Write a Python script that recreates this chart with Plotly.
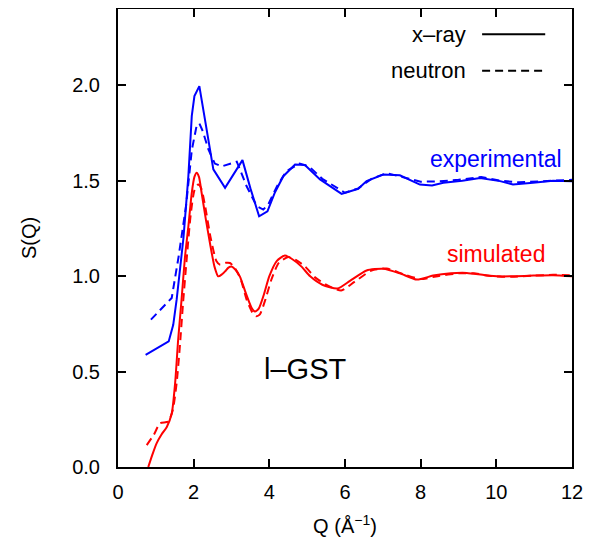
import plotly.graph_objects as go

# Experimental x-ray (blue solid)
q_exp_x = [0.73, 1.0, 1.34, 1.46, 1.55, 1.73, 1.86, 1.95, 2.02, 2.15, 2.24, 2.38, 2.52, 2.83, 3.29, 3.5, 3.73,
           3.95, 4.15, 4.37, 4.68, 4.94, 5.34, 5.91, 6.35, 6.57, 7.01, 7.45, 7.98, 8.3, 8.6, 9.1, 9.57,
           10.1, 10.44, 10.97, 11.5, 12.0]
s_exp_x = [0.588, 0.62, 0.658, 0.745, 0.877, 1.2, 1.524, 1.84, 1.944, 1.996, 1.89, 1.72, 1.56, 1.463, 1.608, 1.46, 1.314,
           1.34, 1.44, 1.524, 1.585, 1.582, 1.507, 1.431, 1.458, 1.498, 1.533, 1.529, 1.48, 1.475, 1.489, 1.50, 1.515,
           1.498, 1.48, 1.489, 1.50, 1.498]

# Experimental neutron (blue dashed)
q_exp_n = [0.87, 1.2, 1.42, 1.6, 1.8, 1.95, 2.08, 2.15, 2.24, 2.39, 2.56, 2.74, 3.14, 3.40, 3.67, 3.84, 3.97,
           4.2, 4.45, 4.8, 5.05, 5.4, 6.0, 6.35, 6.7, 7.1, 7.5, 8.0, 8.5, 9.0, 9.6, 10.1, 10.6, 11.0, 11.5, 12.0]
s_exp_n = [0.772, 0.84, 0.886, 1.1, 1.37, 1.66, 1.79, 1.80, 1.76, 1.664, 1.59, 1.575, 1.60, 1.471, 1.366, 1.349, 1.375,
           1.47, 1.55, 1.59, 1.575, 1.51, 1.437, 1.46, 1.51, 1.54, 1.52, 1.495, 1.497, 1.505, 1.52, 1.50, 1.492, 1.495, 1.50, 1.505]

# Simulated x-ray (red solid)
q_sim_x = [0.8, 0.9, 1.02, 1.15, 1.29, 1.42, 1.51, 1.59, 1.68, 1.77, 1.86, 1.95, 2.02, 2.08, 2.14, 2.21, 2.32, 2.43,
           2.55, 2.65, 2.75, 2.83, 2.92, 3.0, 3.1, 3.22, 3.38, 3.53, 3.62, 3.72, 3.85, 4.0, 4.2, 4.41, 4.6, 4.85,
           5.08, 5.4, 5.8, 6.13, 6.57, 7.01, 7.45, 7.9, 8.33, 8.8, 9.22, 9.7, 10.1, 10.5, 10.98, 11.5, 12.0]
s_sim_x = [0.0, 0.06, 0.124, 0.17, 0.21, 0.28, 0.44, 0.667, 0.877, 1.1, 1.261, 1.437, 1.52, 1.542, 1.52, 1.437, 1.30, 1.174,
           1.05, 0.999, 1.01, 1.025, 1.045, 1.051, 1.035, 0.999, 0.91, 0.835, 0.815, 0.83, 0.90, 1.0, 1.08, 1.108, 1.09, 1.05,
           0.999, 0.955, 0.935, 0.975, 1.03, 1.039, 1.015, 0.982, 1.003, 1.015, 1.017, 1.005, 0.999, 1.0, 1.003, 1.005, 0.999]

# Simulated neutron (red dashed)
q_sim_n = [0.76, 0.95, 1.11, 1.33, 1.45, 1.55, 1.63, 1.72, 1.82, 1.92, 2.02, 2.12, 2.2, 2.3, 2.45, 2.6, 2.7, 2.85,
           2.96, 3.1, 3.25, 3.4, 3.55, 3.65, 3.75, 3.9, 4.05, 4.25, 4.5, 4.7, 4.95, 5.2, 5.5, 5.9, 6.25, 6.7, 7.1,
           7.55, 8.0, 8.45, 9.0, 9.4, 9.9, 10.4, 11.0, 11.5, 12.0]
s_sim_n = [0.115, 0.17, 0.229, 0.238, 0.30, 0.44, 0.62, 0.86, 1.1, 1.32, 1.45, 1.48, 1.46, 1.37, 1.2, 1.08, 1.06, 1.07,
           1.069, 1.04, 0.98, 0.877, 0.81, 0.79, 0.80, 0.88, 0.98, 1.07, 1.10, 1.085, 1.05, 0.995, 0.955, 0.925, 0.97, 1.03, 1.04,
           1.01, 0.985, 1.0, 1.015, 1.015, 1.0, 0.997, 1.003, 1.007, 1.005]

x_ticks = [0, 2, 4, 6, 8, 10, 12]
y_ticks = [0.0, 0.5, 1.0, 1.5, 2.0]
y_tick_labels = ["0.0", "0.5", "1.0", "1.5", "2.0"]

BLUE = "#0000ff"
RED = "#ff0000"
DASH = "8px,5px"
FONT = "Liberation Sans, Arial, sans-serif"

fig = go.Figure()
fig.add_trace(go.Scatter(x=q_exp_x, y=s_exp_x, mode="lines", line=dict(color=BLUE, width=2), showlegend=False))
fig.add_trace(go.Scatter(x=q_exp_n, y=s_exp_n, mode="lines", line=dict(color=BLUE, width=2, dash=DASH), showlegend=False))
fig.add_trace(go.Scatter(x=q_sim_x, y=s_sim_x, mode="lines", line=dict(color=RED, width=2, shape="spline", smoothing=0.6), showlegend=False))
fig.add_trace(go.Scatter(x=q_sim_n, y=s_sim_n, mode="lines", line=dict(color=RED, width=2, dash=DASH, shape="spline", smoothing=0.6), showlegend=False))

# key (gnuplot-style: text then line sample)
fig.add_annotation(xref="paper", yref="paper", x=0.772, y=0.945, text="x\u2013ray", showarrow=False,
                   xanchor="right", yanchor="middle", font=dict(size=22, color="black", family=FONT))
fig.add_annotation(xref="paper", yref="paper", x=0.772, y=0.865, text="neutron", showarrow=False,
                   xanchor="right", yanchor="middle", font=dict(size=22, color="black", family=FONT))
fig.add_shape(type="line", xref="paper", yref="paper", x0=0.802, x1=0.941, y0=0.945, y1=0.945,
              line=dict(color="black", width=2))
fig.add_shape(type="line", xref="paper", yref="paper", x0=0.802, x1=0.941, y0=0.865, y1=0.865,
              line=dict(color="black", width=2, dash=DASH))

fig.add_annotation(x=9.99, y=1.615, text="experimental", showarrow=False, xanchor="center", yanchor="middle",
                   font=dict(size=23, color=BLUE, family=FONT))
fig.add_annotation(x=9.99, y=1.115, text="simulated", showarrow=False, xanchor="center", yanchor="middle",
                   font=dict(size=23, color=RED, family=FONT))
fig.add_annotation(x=4.95, y=0.515, text="l\u2013GST", showarrow=False, xanchor="center", yanchor="middle",
                   font=dict(size=29, color="black", family=FONT))

axis_common = dict(showline=True, linecolor="black", linewidth=2, mirror="ticks", ticks="inside",
                   ticklen=8, tickwidth=2, tickcolor="black", showgrid=False, zeroline=False,
                   automargin=False, tickfont=dict(size=20, color="black", family=FONT))

fig.update_xaxes(range=[0, 12], tickvals=x_ticks, ticktext=[str(t) for t in x_ticks],
                 ticklabelstandoff=6,
                 title=dict(text="Q (Å<sup>\u22121</sup>)", font=dict(size=20, color="black", family=FONT), standoff=17),
                 **axis_common)
fig.update_yaxes(range=[0, 2.4], tickvals=y_ticks, ticktext=y_tick_labels,
                 ticklabelstandoff=12,
                 title=dict(text="S(Q)", font=dict(size=20, color="black", family=FONT), standoff=30),
                 **axis_common)

# the page body adds an 8 px offset, so the figure is sized/margined to land the frame at the reference position
fig.update_layout(width=583, height=537, margin=dict(l=110, r=19, t=1, b=78),
                  plot_bgcolor="white", paper_bgcolor="white", showlegend=False)

fig.write_html("out.html")
